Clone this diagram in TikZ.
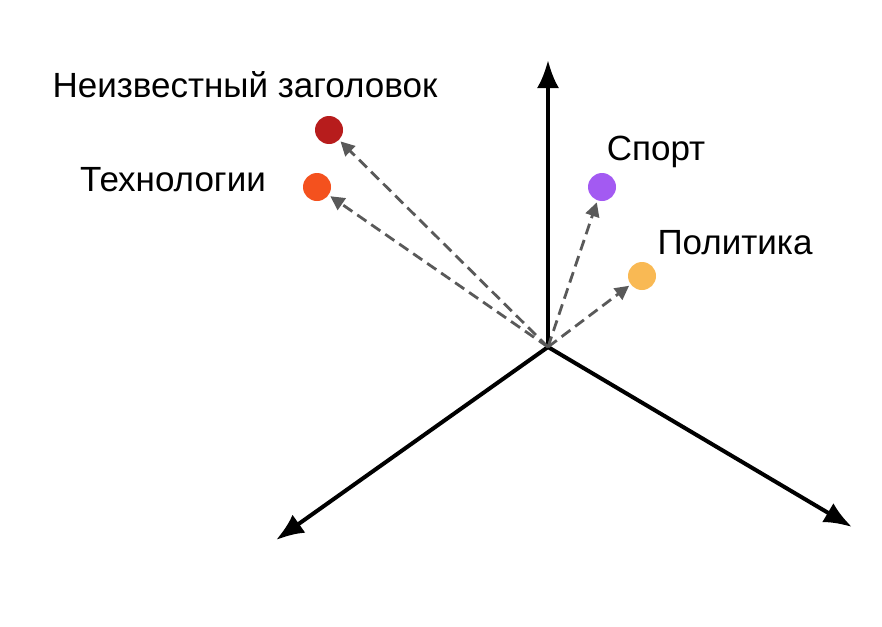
\documentclass[tikz,border=0pt]{standalone}
\usepackage{fontspec}
\setmainfont{Liberation Sans}
\usetikzlibrary{arrows.meta}
\definecolor{unkred}{HTML}{B71C1C}
\definecolor{techorange}{HTML}{F4511E}
\definecolor{sportviolet}{HTML}{A35AF2}
\definecolor{polyellow}{HTML}{F9B954}
\tikzset{>={Latex[length=28pt,width=22pt]}}
\tikzset{axis/.style={->,line width=4pt}}
\tikzset{vec/.style={-{Triangle[length=14pt,width=14pt]},dash pattern=on 11pt off 6pt,line width=2.8pt,gray!70!black,shorten >=2pt}}
\tikzset{dot/.style={circle,fill=#1,inner sep=0pt,minimum size=28pt}}
\tikzset{lbl/.style={font=\fontsize{35}{40}\selectfont}}
\begin{document}
\begin{tikzpicture}[x=1pt,y=-1pt]
		\useasboundingbox (0,0) rectangle (882,626);
		\coordinate (o) at (548,347);
		\coordinate (up) at (548,60);
		\coordinate (left) at (276,540);
		\coordinate (right) at (852,527);
		\node[dot=unkred] (unk) at (329,130) {};
		\node[dot=techorange] (tech) at (317,187) {};
		\node[dot=sportviolet] (sport) at (602,187) {};
		\node[dot=polyellow] (pol) at (642,276) {};
		\node[lbl] at (245,85) {Неизвестный заголовок};
		\node[lbl] at (173,180) {Технологии};
		\node[lbl] at (656,152) {Спорт};
		\node[lbl] at (735,243) {Политика};
		\draw[axis] (o)--(up);
		\draw[axis] (o)--(left);
		\draw[axis] (o)--(right);
		\draw[vec] (o)--(unk);
		\draw[vec] (o)--(tech);
		\draw[vec] (o)--(sport);
		\draw[vec] (o)--(pol);
	\end{tikzpicture}
\end{document}
